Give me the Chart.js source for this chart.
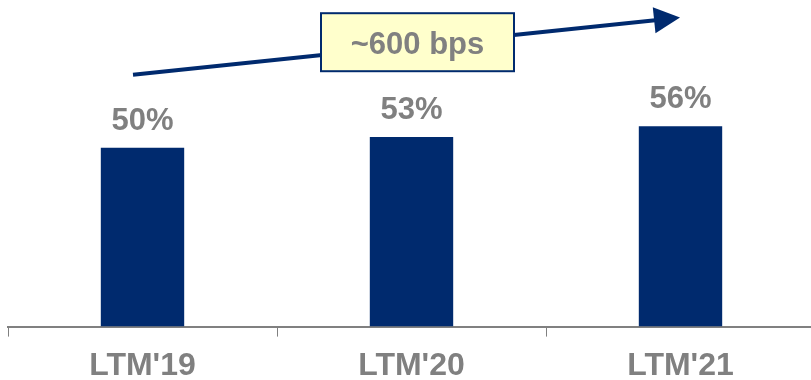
<!DOCTYPE html>
<html>
<head>
<meta charset="utf-8">
<script src="https://cdn.jsdelivr.net/npm/chart.js@4/dist/chart.umd.min.js"></script>
<style>
  html, body { margin: 0; padding: 0; background: #ffffff; overflow: hidden; }
  #wrap { width: 811px; height: 380px; position: relative; overflow: hidden; }
  #c { display: block; }
</style>
</head>
<body>
<div id="wrap"><canvas id="c" width="815" height="380"></canvas></div>
<script>
// Margin by trailing period
const categories = ["LTM'19", "LTM'20", "LTM'21"];
const marginPct = [50, 53, 56];
const trendLabel = "~600 bps";

const NAVY = '#002A6E';
const GREY = '#808080';
const FONT = '"Liberation Sans", Arial, Helvetica, sans-serif';

// Value labels above each bar
const valueLabels = {
  id: 'valueLabels',
  afterDatasetsDraw(chart) {
    const ctx = chart.ctx;
    const meta = chart.getDatasetMeta(0);
    ctx.save();
    ctx.fillStyle = GREY;
    ctx.font = 'bold 31px ' + FONT;
    ctx.textAlign = 'center';
    ctx.textBaseline = 'alphabetic';
    meta.data.forEach((bar, i) => {
      ctx.fillText(marginPct[i] + '%', bar.x, bar.y - 18);
    });
    ctx.restore();
  }
};

// Trend arrow with the callout box
const trendArrow = {
  id: 'trendArrow',
  afterDatasetsDraw(chart) {
    const ctx = chart.ctx;
    const x = chart.scales.x, y = chart.scales.y;
    const x0 = x.getPixelForValue(0) - 9.5, y0 = y.getPixelForValue(70.4);
    const x1 = x.getPixelForValue(2) - 0.5, y1 = y.getPixelForValue(86.4);
    const ang = Math.atan2(y1 - y0, x1 - x0);
    const headLen = 26, headHalf = 13;
    const bx = x1 - headLen * Math.cos(ang), by = y1 - headLen * Math.sin(ang);
    ctx.save();
    ctx.strokeStyle = NAVY;
    ctx.fillStyle = NAVY;
    ctx.lineWidth = 4;
    ctx.beginPath();
    ctx.moveTo(x0, y0);
    ctx.lineTo(bx + 1, by);
    ctx.stroke();
    ctx.beginPath();
    ctx.moveTo(x1, y1);
    ctx.lineTo(bx + headHalf * Math.sin(ang), by - headHalf * Math.cos(ang));
    ctx.lineTo(bx - headHalf * Math.sin(ang), by + headHalf * Math.cos(ang));
    ctx.closePath();
    ctx.fill();

    // callout box
    const cx = x.getPixelForValue(1) + 6, cy = y.getPixelForValue(79.5);
    const w = 193, h = 58;
    ctx.fillStyle = '#FFFFCC';
    ctx.fillRect(cx - w / 2, cy - h / 2, w, h);
    ctx.lineWidth = 2;
    ctx.strokeStyle = NAVY;
    ctx.strokeRect(cx - w / 2, cy - h / 2, w, h);
    ctx.fillStyle = GREY;
    ctx.font = 'bold 31px ' + FONT;
    ctx.textAlign = 'center';
    ctx.textBaseline = 'alphabetic';
    ctx.fillText(trendLabel, cx, cy + 12);
    ctx.restore();
  }
};

new Chart(document.getElementById('c'), {
  type: 'bar',
  data: {
    labels: categories,
    datasets: [{
      data: marginPct,
      backgroundColor: NAVY,
      borderWidth: 0,
      barPercentage: 0.31,
      categoryPercentage: 1.0
    }]
  },
  options: {
    responsive: false,
    animation: false,
    events: [],
    layout: { padding: { left: 8, right: 0, top: 0, bottom: -15 } },
    plugins: { legend: { display: false }, tooltip: { enabled: false } },
    scales: {
      x: {
        grid: {
          display: true,
          offset: true,
          drawOnChartArea: false,
          drawTicks: true,
          tickLength: 10,
          color: GREY,
          lineWidth: 1
        },
        border: { display: true, color: GREY, width: 2 },
        ticks: {
          color: GREY,
          padding: 10,
          font: { family: FONT, size: 32, weight: 'bold' }
        }
      },
      y: {
        display: false,
        min: 0,
        max: 91.3
      }
    }
  },
  plugins: [valueLabels, trendArrow]
});
</script>
</body>
</html>
